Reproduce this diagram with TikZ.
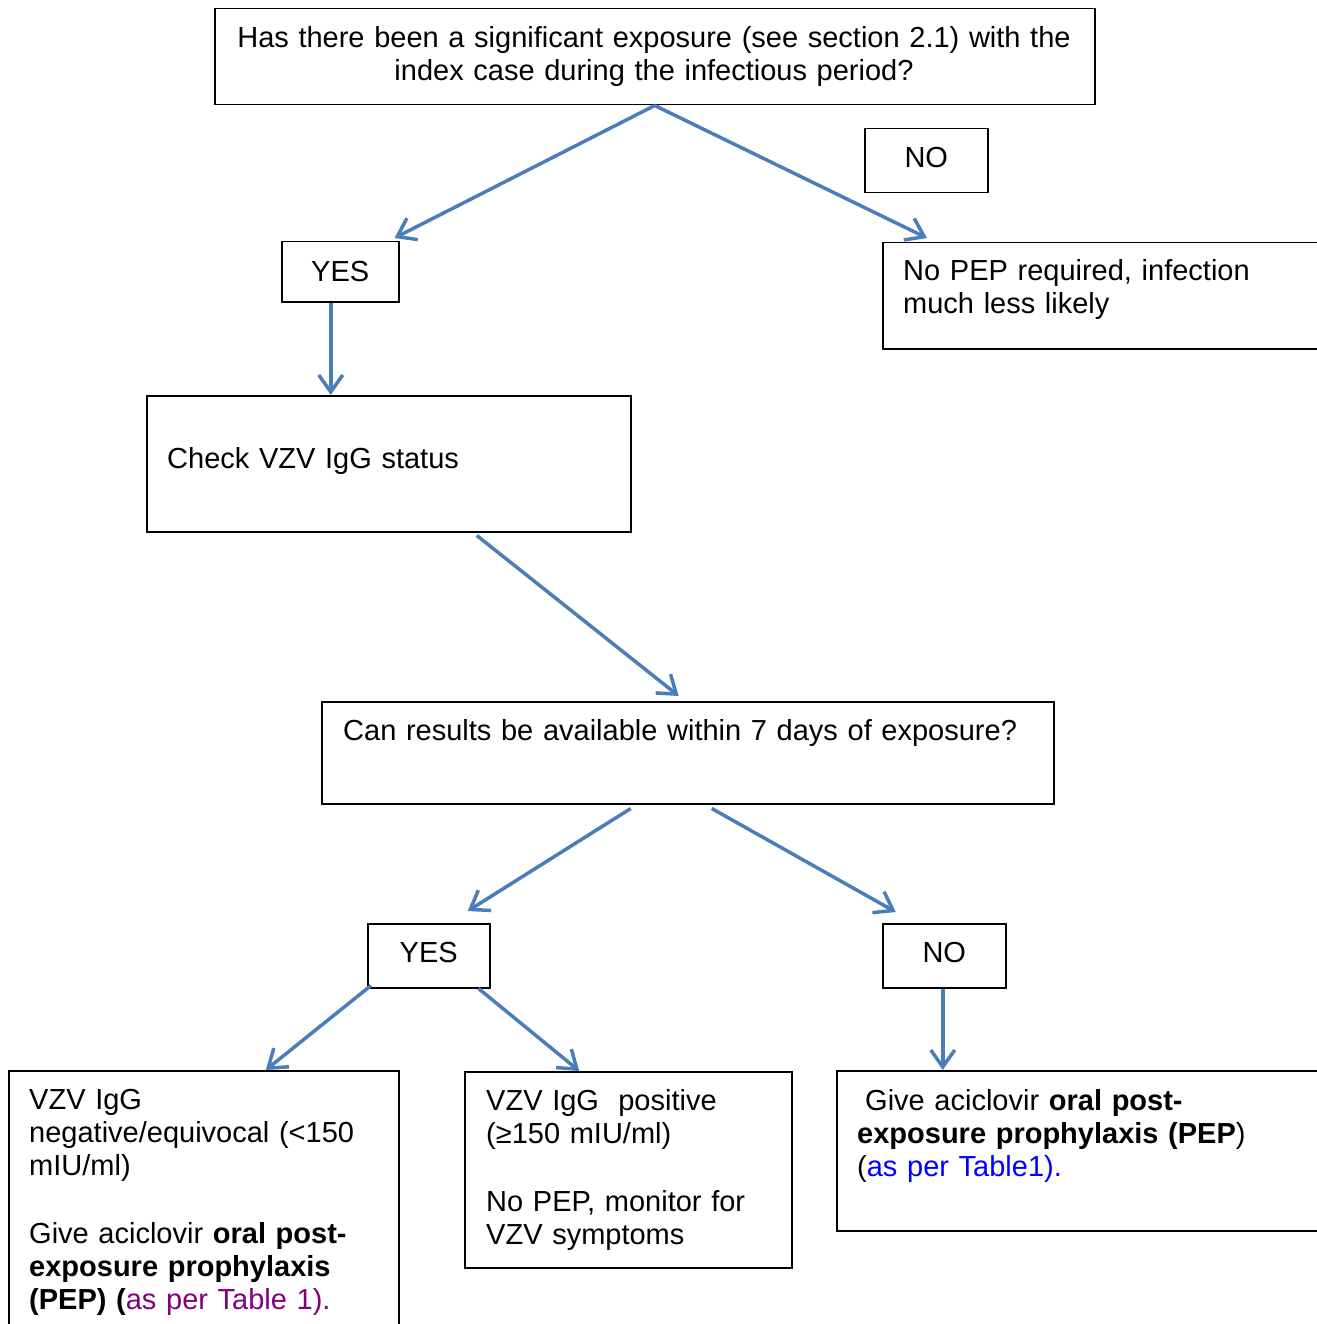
\documentclass[tikz,border=0pt]{standalone}
\usepackage{fontspec}
\setmainfont{Liberation Sans}
\usetikzlibrary{arrows.meta}
\definecolor{arrowblue}{HTML}{4A7EBB}
\definecolor{refpurple}{HTML}{800080}
\definecolor{refblue}{HTML}{0000FF}
\begin{document}
\begin{tikzpicture}[x=1pt,y=-1pt,
  box/.style={draw=black, line width=1.5pt, inner sep=0pt, anchor=north west},
  txt/.style={inner sep=0pt, anchor=base west, align=left, text width=440pt, font=\fontsize{29}{33}\selectfont},
  lbl/.style={font=\fontsize{29}{33}\selectfont},
  lblup/.style={lbl, text depth=7pt},
  flow/.style={draw=arrowblue, line width=3.5pt, -{Straight Barb[length=17pt,width=24pt]}}]
\useasboundingbox (0,0) rectangle (1316,1324);

% boxes
\node[box, minimum width=880pt, minimum height=96pt] (top) at (214,8) {};
\node[box, lblup, minimum width=123pt, minimum height=64pt] (no1) at (864,128) {NO};
\node[box, lbl, minimum width=117pt, minimum height=60pt] (yes1) at (281,241) {YES};
\node[box, minimum width=460pt, minimum height=106pt] (nopep) at (882,242) {};
\node[box, minimum width=484pt, minimum height=136pt] (check) at (146,395) {};
\node[box, minimum width=732pt, minimum height=102pt] (can) at (321,701) {};
\node[box, lblup, minimum width=122pt, minimum height=64pt] (yes2) at (367,923) {YES};
\node[box, lblup, minimum width=123pt, minimum height=64pt] (no2) at (882,923) {NO};
\node[box, minimum width=390pt, minimum height=280pt] (negbox) at (8,1070) {};
\node[box, minimum width=327pt, minimum height=196pt] (posbox) at (464,1071) {};
\node[box, minimum width=500pt, minimum height=160pt] (pepbox) at (836,1070) {};

% texts
\node[txt, text width=860pt, align=center, anchor=base] (toptext) at (654,47.5)
  {Has there been a significant exposure (see section 2.1) with the\\index case during the infectious period?};
\node[txt] (noteptext) at (903,280.5) {No PEP required, infection\\much less likely};
\node[txt] (checktext) at (167,468) {Check VZV IgG status};
\node[txt, text width=700pt] (cantext) at (343,740) {Can results be available within 7 days of exposure?};
\node[txt, text width=380pt] (negtext) at (29,1109)
  {VZV IgG\\negative/equivocal (<150\\mIU/ml)\\[35pt]Give aciclovir \textbf{oral post-}\\\textbf{exposure prophylaxis}\\\textbf{(PEP) (}\textcolor{refpurple}{as per Table 1).}};
\node[txt, text width=320pt] (postext) at (486,1110)
  {VZV IgG\ \ positive\\(≥150 mIU/ml)\\[35pt]No PEP, monitor for\\VZV symptoms};
\node[txt, text width=450pt] (peptext) at (857,1110)
  {\hspace*{8pt}Give aciclovir \textbf{oral post-}\\\textbf{exposure prophylaxis (PEP})\\(\textcolor{refblue}{as per Table1).}};

% connectors
\draw[flow] (top.south) -- ([xshift=-5pt,yshift=3pt]yes1.north east);
\draw[flow] (top.south) -- ([xshift=45pt,yshift=4pt]nopep.north west);
\draw[flow] ([xshift=-9.5pt]yes1.south) -- ([xshift=-58pt]check.north);
\draw[flow] ([xshift=88pt,yshift=-3pt]check.south) -- ([xshift=-9pt,yshift=5pt]can.north);
\draw[flow] ([xshift=-57pt,yshift=-4pt]can.south) -- ([xshift=39pt,yshift=12pt]yes2.north);
\draw[flow] ([xshift=24pt,yshift=-4pt]can.south) -- ([xshift=-48.5pt,yshift=11pt]no2.north);
\draw[flow] ([xshift=4pt,yshift=3pt]yes2.south west) -- ([xshift=62pt]negbox.north);
\draw[flow] ([xshift=-12pt]yes2.south east) -- ([xshift=-49pt]posbox.north);
\draw[flow] ([xshift=-1.5pt]no2.south) -- ([xshift=-1.5pt]no2.south |- pepbox.north);
\end{tikzpicture}
\end{document}
